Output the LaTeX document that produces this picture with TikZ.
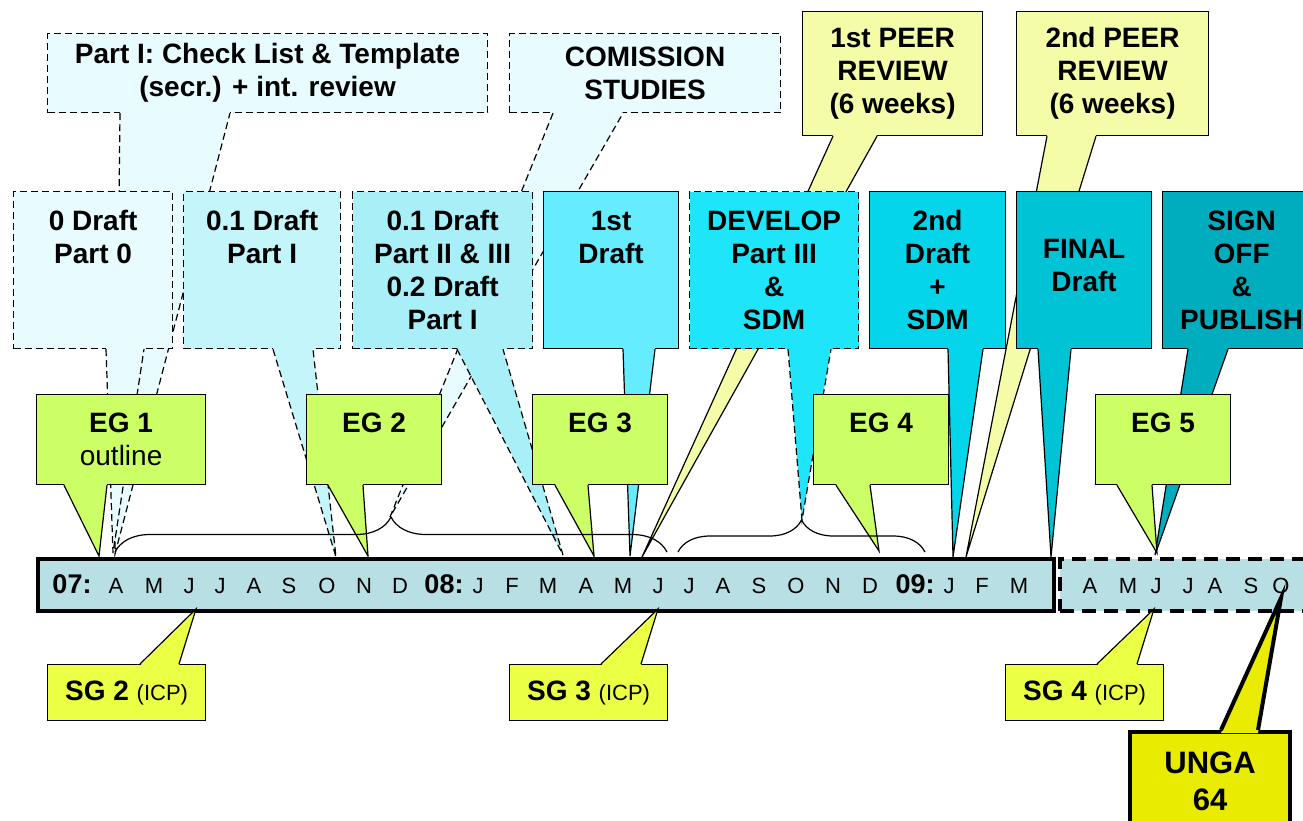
\documentclass[tikz,border=0pt]{standalone}
\usepackage{fontspec}
\setmainfont{Liberation Sans}
\usetikzlibrary{calc, decorations.pathreplacing}

\definecolor{pale}{HTML}{E8FCFF}
\definecolor{draftA}{HTML}{C4F5FA}
\definecolor{draftB}{HTML}{A9EFF8}
\definecolor{firstdr}{HTML}{66ECFF}
\definecolor{develop}{HTML}{1EE5F9}
\definecolor{seconddr}{HTML}{05D5EA}
\definecolor{finaldr}{HTML}{00C4D6}
\definecolor{signoff}{HTML}{00ADBF}
\definecolor{peer}{HTML}{F5FCA8}
\definecolor{eggreen}{HTML}{CCFF66}
\definecolor{sgyellow}{HTML}{EBFF45}
\definecolor{ungayellow}{HTML}{E9EC00}
\definecolor{barblue}{HTML}{B8DFE3}

\tikzstyle{callbox} = [rectangle, draw=black, line width=1.2pt, inner sep=0pt, anchor=north west, align=center, font=\bfseries\fontsize{28}{33}\selectfont]
\tikzstyle{dashbox} = [callbox, dash pattern=on 7pt off 4pt]
\tikzstyle{draftbox} = [minimum height=157]
\tikzstyle{egbox} = [callbox, fill=eggreen, minimum width=135, minimum height=90, font=\fontsize{28}{33}\selectfont]
\tikzstyle{sgbox} = [callbox, fill=sgyellow, minimum width=158, minimum height=56, font=\fontsize{28}{30}\selectfont]
\tikzstyle{tail} = [draw=black, line width=1.2pt]
\tikzstyle{dashtail} = [tail, dash pattern=on 7pt off 4pt]
\tikzstyle{month} = [anchor=base, font=\fontsize{22}{26}\selectfont]
\tikzstyle{year} = [anchor=base, font=\bfseries\fontsize{27}{30}\selectfont]
\tikzstyle{bracket} = [draw=black, line width=1.2pt, decorate]

% tail of a callout: [shift into box]{anchor}{left x}{right x}{tip}{fill}{line style}
\newcommand{\calltail}[7][-1.5]{%
  \fill[#6] ($(#3,0 |- #2)+(0,#1)$) -- (#5) -- ($(#4,0 |- #2)+(0,#1)$) -- cycle;
  \draw[#7] (#3,0 |- #2) -- (#5) -- (#4,0 |- #2);
}

\begin{document}
\begin{tikzpicture}[x=1pt, y=-1pt]
\useasboundingbox (0,0) rectangle (1303,820);

% Tips on the time line
\coordinate (tPartI) at (115,554);
\coordinate (tComm) at (390,517);
\coordinate (tPeerA) at (642,557);
\coordinate (tPeerB) at (966,557);
\coordinate (tD0) at (113,553);
\coordinate (tD01) at (336,557);
\coordinate (tD02) at (563,555);
\coordinate (tD1) at (630,556);
\coordinate (tDev) at (802,520);
\coordinate (tD2) at (953,557);
\coordinate (tFin) at (1051,557);
\coordinate (tSign) at (1155,555);
\coordinate (tEG1) at (99,556);
\coordinate (tEG2) at (368,556);
\coordinate (tEG3) at (594,556);
\coordinate (tEG4) at (879,551);
\coordinate (tEG5) at (1157,553);
\coordinate (tSG2) at (196,609);
\coordinate (tSG3) at (658,609);
\coordinate (tSG4) at (1154,609);
\coordinate (tUNGA) at (1281,598);

% Top row
\node (partI) [dashbox, fill=pale, minimum width=440, minimum height=79] at (47,33) {Part I: Check List \& Template\\(secr.) + int. review};
\calltail{partI.south}{120}{230}{tPartI}{pale}{dashtail}
\node (comm) [dashbox, fill=pale, minimum width=271, minimum height=79] at (509,33) {COMISSION\\STUDIES};
\calltail{comm.south}{553}{623}{tComm}{pale}{dashtail}
\node (peerA) [callbox, fill=peer, minimum width=180, minimum height=124] at (802,11) {1st PEER\\REVIEW\\(6 weeks)};
\calltail{peerA.south}{833}{877}{tPeerA}{peer}{tail}
\node (peerB) [callbox, fill=peer, minimum width=192, minimum height=124] at (1016,11) {2nd PEER\\REVIEW\\(6 weeks)};
\calltail{peerB.south}{1047}{1096}{tPeerB}{peer}{tail}

% Drafts
\node (d0) [dashbox, draftbox, fill=pale, minimum width=159] at (13,191) {0 Draft\\Part 0\\~\\~};
\calltail{d0.south}{106}{144}{tD0}{pale}{dashtail}
\node (d01) [dashbox, draftbox, fill=draftA, minimum width=157] at (183,191) {0.1 Draft\\Part I\\~\\~};
\calltail{d01.south}{273}{313}{tD01}{draftA}{dashtail}
\node (d02) [dashbox, draftbox, fill=draftB, minimum width=180] at (352,191) {0.1 Draft\\Part II \& III\\0.2 Draft\\Part I};
\calltail{d02.south}{457}{503}{tD02}{draftB}{dashtail}
\node (d1) [callbox, draftbox, fill=firstdr, minimum width=135] at (543,191) {1st\\Draft\\~\\~};
\calltail{d1.south}{623}{655}{tD1}{firstdr}{tail}
\node (dev) [dashbox, draftbox, fill=develop, minimum width=169] at (689,191) {DEVELOP\\Part III\\\&\\SDM};
\calltail{dev.south}{788}{831}{tDev}{develop}{dashtail}
\node (d2) [callbox, draftbox, fill=seconddr, minimum width=136] at (869,191) {2nd\\Draft\\+\\SDM};
\calltail{d2.south}{948}{983}{tD2}{seconddr}{tail}
\node (fin) [callbox, draftbox, fill=finaldr, minimum width=135] at (1016,191) {FINAL\\Draft\\[-23pt]~};
\calltail{fin.south}{1038}{1071}{tFin}{finaldr}{tail}
\node (sign) [callbox, draftbox, fill=signoff, minimum width=158] at (1162,191) {SIGN\\OFF\\\&\\PUBLISH};
\calltail{sign.south}{1188}{1228}{tSign}{signoff}{tail}

% Expert groups
\node (eg1) [egbox, minimum width=169] at (36,394) {\textbf{EG 1}\\outline};
\calltail{eg1.south}{64}{107}{tEG1}{eggreen}{tail}
\node (eg2) [egbox] at (306,394) {\textbf{EG 2}\\~};
\calltail{eg2.south}{328}{363}{tEG2}{eggreen}{tail}
\node (eg3) [egbox] at (532,394) {\textbf{EG 3}\\~};
\calltail{eg3.south}{555}{588}{tEG3}{eggreen}{tail}
\node (eg4) [egbox] at (813,394) {\textbf{EG 4}\\~};
\calltail{eg4.south}{836}{870}{tEG4}{eggreen}{tail}
\node (eg5) [egbox] at (1095,394) {\textbf{EG 5}\\~};
\calltail{eg5.south}{1117}{1152}{tEG5}{eggreen}{tail}

% Time line
\node (bar) [rectangle, draw=black, line width=3.5pt, fill=barblue, anchor=north west, minimum width=1016, minimum height=52] at (36,557) {};
\node (barlate) [rectangle, draw=black, line width=3.5pt, dash pattern=on 14pt off 8pt, fill=barblue, anchor=north west, minimum width=262, minimum height=52] at (1058,557) {};
\node (y07) [year] at (72,593) {07:};
\foreach \m/\x [count=\i] in {A/116, M/154, J/189, J/220, A/254, S/289, O/327, N/364, D/400}
  \node (ma\i) [month] at (\x,593) {\m};
\node (y08) [year] at (444,593) {08:};
\foreach \m/\x [count=\i] in {J/478, F/512, M/548, A/586, M/623, J/658, J/689, A/723, S/759, O/796, N/833, D/870}
  \node (mb\i) [month] at (\x,593) {\m};
\node (y09) [year] at (915,593) {09:};
\foreach \m/\x [count=\i] in {J/949, F/982, M/1019, A/1090, M/1128, J/1156, J/1188, A/1215, S/1251, O/1281}
  \node (mc\i) [month] at (\x,593) {\m};

% Braces
\coordinate (brAl) at (115,552);
\coordinate (brAr) at (667,552);
\coordinate (brBl) at (678,552);
\coordinate (brBr) at (925,552);
\draw [bracket, decoration={brace, amplitude=35pt}] (brAl) -- (brAr);
\draw [bracket, decoration={brace, amplitude=32pt}] (brBl) -- (brBr);

% Study groups
\node (sg2) [sgbox] at (47,664) {\textbf{SG 2} {\fontsize{22}{25}\selectfont(ICP)}};
\calltail[1.5]{sg2.north}{140}{179}{tSG2}{sgyellow}{tail}
\node (sg3) [sgbox] at (509,664) {\textbf{SG 3} {\fontsize{22}{25}\selectfont(ICP)}};
\calltail[1.5]{sg3.north}{601}{641}{tSG3}{sgyellow}{tail}
\node (sg4) [sgbox] at (1005,664) {\textbf{SG 4} {\fontsize{22}{25}\selectfont(ICP)}};
\calltail[1.5]{sg4.north}{1097}{1137}{tSG4}{sgyellow}{tail}
\node (unga) [callbox, fill=ungayellow, line width=4pt, minimum width=160, minimum height=98, font=\bfseries\fontsize{31}{37}\selectfont] at (1128,730) {UNGA\\64};
\calltail[3]{unga.north}{1221}{1258}{tUNGA}{ungayellow}{tail, line width=4pt}

\end{tikzpicture}
\end{document}
